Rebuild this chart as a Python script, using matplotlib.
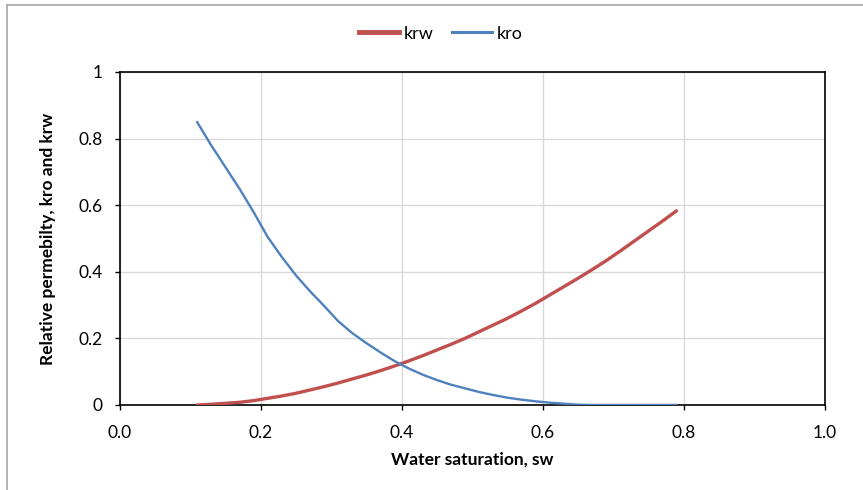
import matplotlib
matplotlib.use("Agg")
import matplotlib.pyplot as plt
from matplotlib.lines import Line2D

# water saturation and relative permeabilities
sw = [0.11, 0.13, 0.15, 0.17, 0.19, 0.21, 0.23, 0.25, 0.27, 0.29,
      0.31, 0.33, 0.35, 0.37, 0.39, 0.41, 0.43, 0.45, 0.47, 0.49,
      0.51, 0.53, 0.55, 0.57, 0.59, 0.61, 0.63, 0.65, 0.67, 0.69,
      0.71, 0.73, 0.75, 0.77, 0.79]
krw = [0.0, 0.002, 0.005, 0.008, 0.013, 0.02, 0.027, 0.035, 0.045, 0.055,
       0.066, 0.078, 0.09, 0.103, 0.117, 0.132, 0.148, 0.165, 0.182, 0.2,
       0.22, 0.24, 0.26, 0.282, 0.305, 0.33, 0.355, 0.38, 0.406, 0.433,
       0.462, 0.492, 0.522, 0.552, 0.583]
kro = [0.85, 0.78, 0.715, 0.65, 0.58, 0.505, 0.445, 0.39, 0.342, 0.298,
       0.252, 0.216, 0.186, 0.158, 0.132, 0.11, 0.091, 0.075, 0.061, 0.05,
       0.039, 0.03, 0.022, 0.016, 0.011, 0.007, 0.004, 0.001, 0.0, 0.0,
       0.0, 0.0, 0.0, 0.0, 0.0]

x_ticks = [0.0, 0.2, 0.4, 0.6, 0.8, 1.0]
x_ticklabels = ["0.0", "0.2", "0.4", "0.6", "0.8", "1.0"]
y_ticks = [0, 0.2, 0.4, 0.6, 0.8, 1.0]
y_ticklabels = ["0", "0.2", "0.4", "0.6", "0.8", "1"]

plt.rcParams["font.family"] = ["Lato", "DejaVu Sans"]

fig = plt.figure(figsize=(8.63, 4.9), dpi=100)
ax = fig.add_axes([0.1385, 0.1735, 0.8169, 0.6796])

ax.plot(sw, krw, color="#C0504D", linewidth=2.4, solid_capstyle="round", label="krw", zorder=3)
ax.plot(sw, kro, color="#4F81BD", linewidth=1.7, solid_capstyle="round", label="kro", zorder=4)

ax.set_xlim(0, 1)
ax.set_ylim(0, 1)
ax.set_xticks(x_ticks)
ax.set_xticklabels(x_ticklabels)
ax.set_yticks(y_ticks)
ax.set_yticklabels(y_ticklabels)
ax.tick_params(axis="both", direction="out", length=3.8, width=1, labelsize=12.5,
               colors="black")
ax.tick_params(axis="x", pad=10.5)
ax.tick_params(axis="y", pad=8.5)
ax.grid(True, color="#D9D9D9", linewidth=1)
ax.set_axisbelow(True)
for s in ax.spines.values():
    s.set_color("black")
    s.set_linewidth(1.2)

ax.set_xlabel("Water saturation, sw", fontsize=12.5, fontweight="bold", labelpad=8)
ax.set_ylabel("Relative permebilty, kro and krw", fontsize=12.5, fontweight="bold", labelpad=16)

handles = [Line2D([0], [0], color="#C0504D", linewidth=3.5),
           Line2D([0], [0], color="#4F81BD", linewidth=2.2)]
fig.legend(handles, ["krw", "kro"], loc="center", bbox_to_anchor=(0.511, 0.931),
           ncol=2, frameon=False, fontsize=13, handlelength=2.2,
           handletextpad=0.3, columnspacing=1.0)

# outer chart border (only left and top edges are visible)
fig.add_artist(Line2D([0.0078, 0.0078], [0.0, 0.99], transform=fig.transFigure,
                      color="#A6A6A6", linewidth=1.2))
fig.add_artist(Line2D([0.0078, 1.0], [0.99, 0.99], transform=fig.transFigure,
                      color="#A6A6A6", linewidth=1.2))

fig.savefig("out.png", dpi=100)
